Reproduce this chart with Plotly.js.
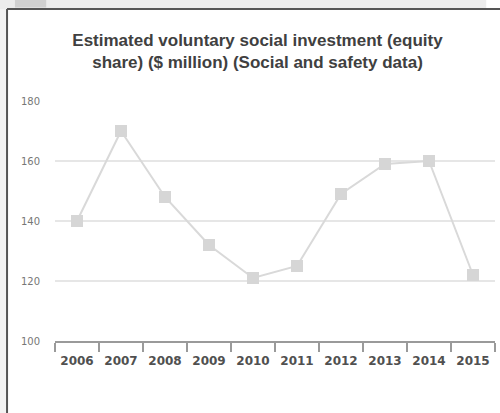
<!DOCTYPE html>
<html>
<head>
<meta charset="utf-8">
<script src="https://cdn.plot.ly/plotly-3.0.1.min.js"></script>
<style>html,body{margin:0;padding:0;background:#fff;}#chart{width:500px;height:413px;}</style>
</head>
<body>
<div id="chart"></div>
<script>
const years = ["2006","2007","2008","2009","2010","2011","2012","2013","2014","2015"];
const investment = [140, 170, 148, 132, 121, 125, 149, 159, 160, 122];
const yTicks = [100, 120, 140, 160, 180];

const trace = {
  x: years,
  y: investment,
  type: 'scatter',
  mode: 'lines+markers',
  line: {color: '#d9d9d9', width: 2},
  marker: {symbol: 'square', size: 12, color: '#d6d6d6'},
  hoverinfo: 'x+y'
};

const layout = {
  width: 500, height: 413,
  margin: {l: 55, r: 5, t: 101, b: 72},
  paper_bgcolor: '#ffffff',
  plot_bgcolor: '#ffffff',
  showlegend: false,
  title: {
    text: 'Estimated voluntary social investment (equity<br>share) ($ million) (Social and safety data)',
    font: {family: 'Liberation Sans, Arial, sans-serif', size: 17, color: '#404040', weight: 'bold'},
    x: 0.515, xanchor: 'center',
    yref: 'container', y: 1 - 46/413, yanchor: 'top'
  },
  xaxis: {
    type: 'category',
    showgrid: false,
    showline: true, linecolor: '#9a9a9a', linewidth: 1.5,
    ticks: 'outside', ticklen: 9, tickwidth: 1.5, tickcolor: '#9a9a9a',
    tickson: 'boundaries',
    ticklabelstandoff: 8,
    tickfont: {family: 'DejaVu Sans, sans-serif', size: 12, color: '#505050', weight: 'bold'},
    range: [-0.5, 9.5],
    fixedrange: true
  },
  yaxis: {
    range: [100, 180],
    tickvals: yTicks,
    showgrid: true, gridcolor: '#e6e6e6', gridwidth: 1.5,
    zeroline: false,
    showline: false,
    ticks: '',
    ticklabelstandoff: 14,
    tickfont: {family: 'DejaVu Sans, sans-serif', size: 10, color: '#777'},
    fixedrange: true
  },
  shapes: [
    {type: 'rect', xref: 'paper', yref: 'paper', x0: -0.2, x1: 0.98, y0: 1.383, y1: 1.45,
     fillcolor: '#ececec', line: {width: 0}, layer: 'below'},
    {type: 'rect', xref: 'paper', yref: 'paper', x0: -0.091, x1: -0.02, y0: 1.39, y1: 1.45,
     fillcolor: '#d0d0d0', line: {width: 0}, layer: 'below'},
    {type: 'rect', xref: 'paper', yref: 'paper', x0: -0.2, x1: -0.111, y0: -0.4, y1: 1.383,
     fillcolor: '#f3f3f3', line: {width: 0}, layer: 'below'},
    {type: 'line', xref: 'paper', yref: 'paper', x0: -0.109, x1: -0.109, y0: -0.4, y1: 1.383,
     line: {color: '#555', width: 2}},
    {type: 'line', xref: 'paper', yref: 'paper', x0: -0.109, x1: 1.2, y0: 1.383, y1: 1.383,
     line: {color: '#555', width: 2}}
  ]
};

Plotly.newPlot('chart', [trace], layout, {displayModeBar: false, staticPlot: true});
</script>
</body>
</html>
